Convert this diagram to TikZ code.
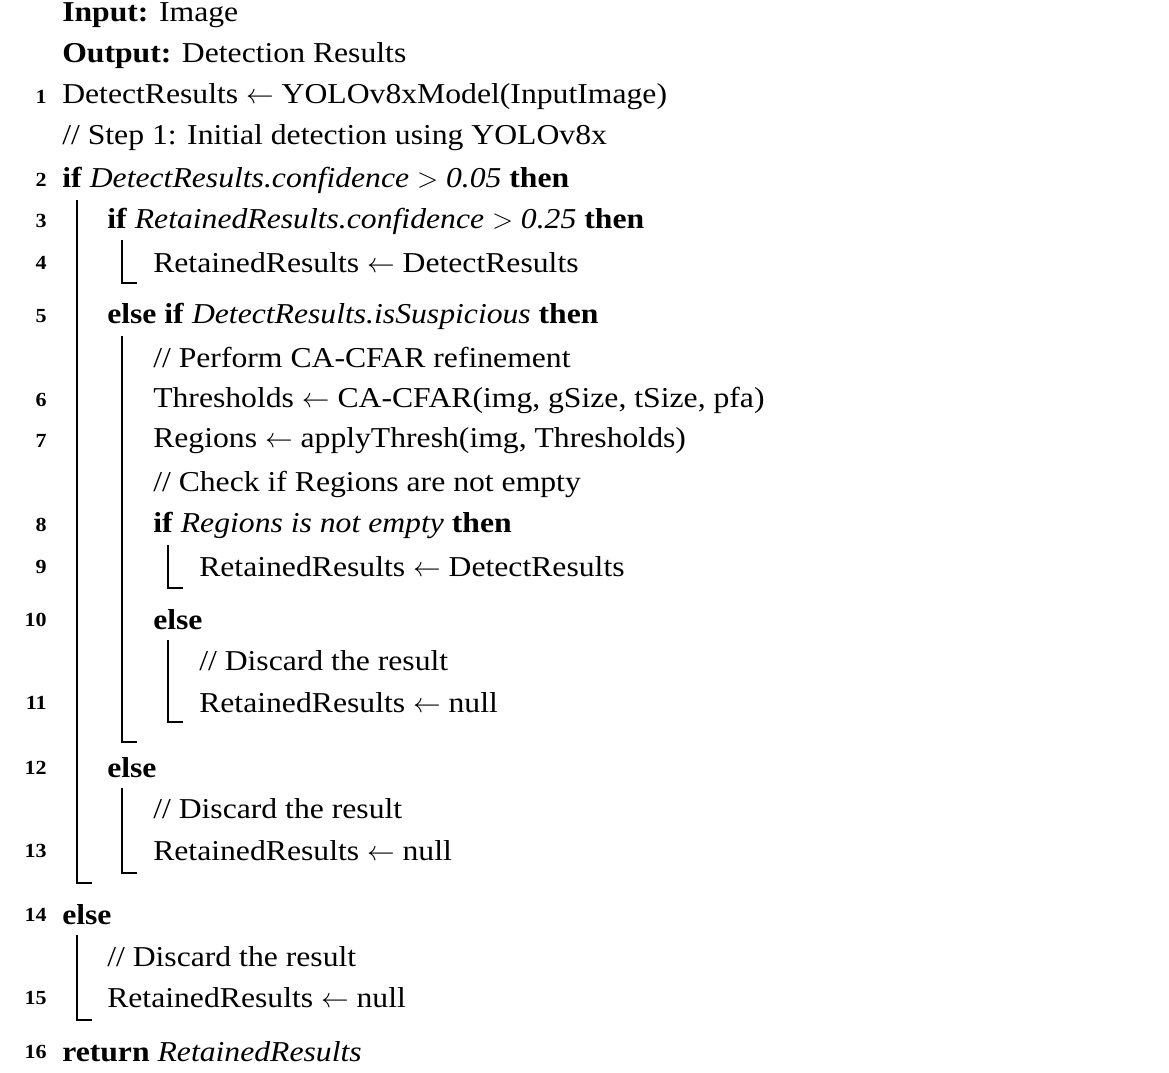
\documentclass[tikz,border=0pt]{standalone}
\usepackage{fontspec}
\setmainfont{Liberation Serif}[FakeStretch=1.1]
\begin{document}
\begin{tikzpicture}[x=0.75pt,y=-0.75pt,
  t/.style={anchor=west,inner sep=0pt,font=\fontsize{21.6}{24}\selectfont},
  n/.style={anchor=east,inner sep=0pt,font=\fontsize{15}{16}\selectfont\bfseries},
  bar/.style={line width=0.8pt}]
\useasboundingbox (0,0) rectangle (1169,1072);
\node[t] (a1) at (62,15) {\textbf{Input:} Image};
\node[t] (a2) at (62,56) {\textbf{Output:} Detection Results};
\def\L#1#2#3#4{\node[n] (n#1) at (47,#2) {#1}; \node[t] (l#1) at (#3,#2) {#4};}
\L{1}{97}{62}{DetectResults $\leftarrow$ YOLOv8xModel(InputImage)}
\node[t] (c1) at (62,138) {// Step 1: Initial detection using YOLOv8x};
\L{2}{180}{62}{\textbf{if} \textit{DetectResults.confidence $>$ 0.05} \textbf{then}}
\L{3}{221}{107}{\textbf{if} \textit{RetainedResults.confidence $>$ 0.25} \textbf{then}}
\L{4}{263}{153}{RetainedResults $\leftarrow$ DetectResults}
\L{5}{316}{107}{\textbf{else if} \textit{DetectResults.isSuspicious} \textbf{then}}
\node[t] (c2) at (153,357) {// Perform CA-CFAR refinement};
\L{6}{400}{153}{Thresholds $\leftarrow$ CA-CFAR(img, gSize, tSize, pfa)}
\L{7}{441}{153}{Regions $\leftarrow$ applyThresh(img, Thresholds)}
\node[t] (c3) at (153,484) {// Check if Regions are not empty};
\L{8}{525}{153}{\textbf{if} \textit{Regions is not empty} \textbf{then}}
\L{9}{567}{199}{RetainedResults $\leftarrow$ DetectResults}
\L{10}{620}{153}{\textbf{else}}
\node[t] (c4) at (199,661) {// Discard the result};
\L{11}{703}{199}{RetainedResults $\leftarrow$ null}
\L{12}{768}{107}{\textbf{else}}
\node[t] (c5) at (153,809) {// Discard the result};
\L{13}{851}{153}{RetainedResults $\leftarrow$ null}
\L{14}{915}{62}{\textbf{else}}
\node[t] (c6) at (107,957) {// Discard the result};
\L{15}{998}{107}{RetainedResults $\leftarrow$ null}
\L{16}{1052}{62}{\textbf{return} \textit{RetainedResults}}
\def\B#1#2#3{\draw[bar] (#1,#2) -- (#1,#3) -- (#1+15,#3);}
\B{77}{200}{883}
\B{122}{240}{283}
\B{122}{336}{742}
\B{168}{545}{588}
\B{168}{640}{722}
\B{122}{788}{873}
\B{77}{935}{1020}
\end{tikzpicture}
\end{document}
